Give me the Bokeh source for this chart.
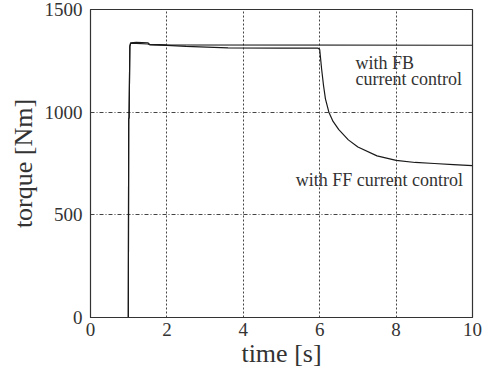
from bokeh.plotting import figure
from bokeh.models import SingleIntervalTicker, ColumnDataSource, Range1d
from bokeh.core.properties import value
from bokeh.embed import file_html
from bokeh.resources import INLINE

# ---- data ----
t_fb = [0, 0.99, 1.0, 1.01, 1.03, 1.05, 1.2, 1.5, 1.55, 2.0, 10.0]
torque_fb = [0, 0, 965, 975, 1320, 1338, 1340, 1338, 1330, 1328, 1326]

t_ff = [0, 0.99, 1.0, 1.01, 1.03, 1.05, 1.2, 1.5, 1.55, 2.0, 2.5, 3.6, 5.0, 5.95,
        6.0, 6.05, 6.1, 6.15, 6.24, 6.35, 6.5, 6.75, 7.0, 7.5, 8.0, 8.5, 9.0, 9.5, 10.0]
torque_ff = [0, 0, 965, 975, 1320, 1335, 1335, 1332, 1328, 1325, 1320, 1313, 1312, 1312,
             1305, 1210, 1130, 1065, 1000, 955, 915, 865, 830, 787, 765, 755, 750, 745, 740]

x_ticks_interval = 2
y_ticks_interval = 500

FONT = "Liberation Serif"
TXT = "#333333"

p = figure(width=484, height=371, output_backend="svg", toolbar_location=None,
           x_range=Range1d(0, 10), y_range=Range1d(0, 1500),
           x_axis_label="time [s]", y_axis_label="torque [Nm]",
           min_border_left=90, min_border_right=12, min_border_top=9, min_border_bottom=54)

p.background_fill_color = "white"
p.border_fill_color = "white"
p.outline_line_color = "#333333"
p.outline_line_width = 1.2

p.xaxis.ticker = SingleIntervalTicker(interval=x_ticks_interval)
p.yaxis.ticker = SingleIntervalTicker(interval=y_ticks_interval)

for ax in (p.xaxis, p.yaxis):
    ax.axis_line_color = "#333333"
    ax.major_tick_in = 0
    ax.major_tick_out = 0
    ax.minor_tick_in = 0
    ax.minor_tick_out = 0
    ax.major_label_text_font = FONT
    ax.major_label_text_font_size = "19px"
    ax.major_label_text_color = TXT
    ax.axis_label_text_font = FONT
    ax.axis_label_text_font_size = "26px"
    ax.axis_label_text_font_style = "normal"
    ax.axis_label_text_color = TXT

p.xaxis.major_label_standoff = 5
p.xaxis.axis_label_standoff = 0
p.yaxis.major_label_standoff = 8
p.yaxis.axis_label_standoff = 4

p.xgrid.grid_line_color = "#444444"
p.xgrid.grid_line_dash = "2 2"
p.xgrid.grid_line_width = 1
p.ygrid.grid_line_color = "#444444"
p.ygrid.grid_line_dash = "4 2 1 2"
p.ygrid.grid_line_width = 1

p.line(t_fb, torque_fb, line_color="#1a1a1a", line_width=1.2)
p.line(t_ff, torque_ff, line_color="#1a1a1a", line_width=1.2)

labels = ColumnDataSource(dict(
    x=[6.94, 6.94, 5.37],
    y=[1238, 1160, 668],
    text=["with FB", "current control", "with FF current control"],
))
p.text(x="x", y="y", text="text", source=labels, text_font=value(FONT),
       text_font_size="18px", text_color=TXT, text_align="left",
       text_baseline="alphabetic")

open("out.html", "w").write(file_html(p, INLINE))
